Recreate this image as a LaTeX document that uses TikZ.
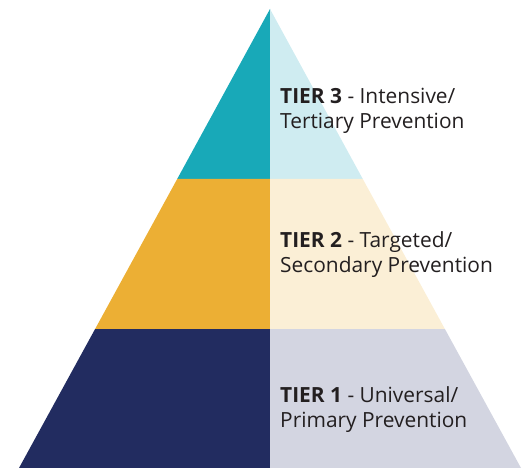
\documentclass[tikz,border=0pt]{standalone}
\usepackage{fontspec}
\setmainfont{Open Sans}
\definecolor{tealA}{HTML}{18A9B8}
\definecolor{tealB}{HTML}{CFECF1}
\definecolor{goldA}{HTML}{ECAF34}
\definecolor{goldB}{HTML}{FBEFD6}
\definecolor{navyA}{HTML}{222C60}
\definecolor{navyB}{HTML}{D3D5E1}
\definecolor{txt}{HTML}{231F20}
\begin{document}
\begin{tikzpicture}[x=1pt,y=-1pt,
  label/.style={anchor=base west,align=left,text=txt,inner sep=0pt,font=\fontsize{20.9}{25}\selectfont}]
\useasboundingbox (0,0) rectangle (525,468);
% geometry: apex (270,9), base (19,468)-(521,468)
\coordinate (apex) at (270,9);
\coordinate (l3) at (177.2,179);
\coordinate (r3) at (362.8,179);
\coordinate (l2) at (95.1,329);
\coordinate (r2) at (444.9,329);
\coordinate (bl) at (19,468);
\coordinate (br) at (521,468);
\coordinate (m3) at (270,179);
\coordinate (m2) at (270,329);
\coordinate (mb) at (270,468);
\fill[tealA] (apex) -- (l3) -- (m3) -- cycle;
\fill[tealB] (apex) -- (r3) -- (m3) -- cycle;
\fill[goldA] (l3) -- (l2) -- (m2) -- (m3) -- cycle;
\fill[goldB] (r3) -- (r2) -- (m2) -- (m3) -- cycle;
\fill[navyA] (l2) -- (bl) -- (mb) -- (m2) -- cycle;
\fill[navyB] (r2) -- (br) -- (mb) -- (m2) -- cycle;
\node[label] (t3) at (280,129) {\textbf{TIER 3} - Intensive/\\Tertiary Prevention};
\node[label] (t2) at (280,272) {\textbf{TIER 2} - Targeted/\\Secondary Prevention};
\node[label] (t1) at (280,427) {\textbf{TIER 1} - Universal/\\Primary Prevention};
\end{tikzpicture}
\end{document}
